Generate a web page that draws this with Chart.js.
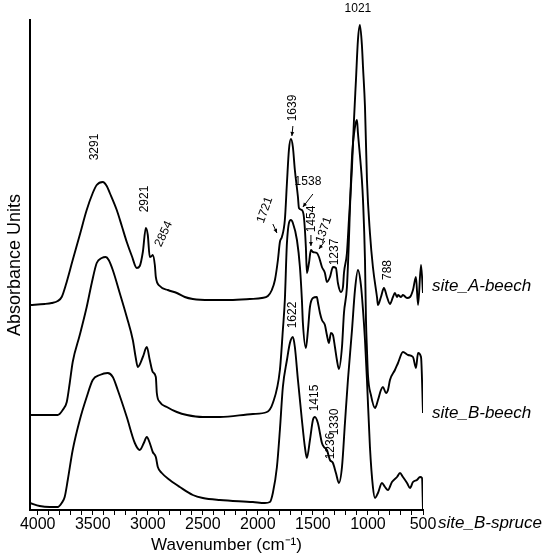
<!DOCTYPE html>
<html>
<head>
<meta charset="utf-8">
<script src="https://cdn.jsdelivr.net/npm/chart.js@4.4.0/dist/chart.umd.min.js"></script>
<style>
  html, body { margin: 0; padding: 0; background: #fff; }
  #wrap { width: 550px; height: 559px; }
</style>
</head>
<body>
<div id="wrap"><canvas id="ftir"></canvas></div>
<script>
// spectra: wavenumber (cm-1) and absorbance, stacking offset included
const waveA = [4070, 3936, 3873, 3818, 3782, 3745, 3682, 3618, 3555, 3500, 3464, 3409, 3373, 3345, 3282, 3236, 3191, 3145, 3100, 3073,
  3045, 3018, 3000, 2982, 2964, 2955, 2936, 2927, 2891, 2818, 2736, 2664, 2591, 2436, 2255, 2073, 1964, 1909, 1873, 1845,
  1818, 1800, 1782, 1755, 1736, 1718, 1700, 1682, 1664, 1636, 1627, 1600, 1582, 1564, 1555, 1536, 1518, 1500, 1464, 1445,
  1418, 1391, 1373, 1345, 1318, 1291, 1273, 1245, 1227, 1218, 1191, 1173, 1145, 1127, 1109, 1091, 1073, 1055, 1045, 1027,
  1009, 982, 955, 918, 909, 882, 855, 827, 800, 773, 755, 736, 727, 700, 682, 645, 618, 591, 564, 545, 518, 500];
const absA = [2.05, 2.06, 2.07, 2.09, 2.13, 2.25, 2.50, 2.75, 3.00, 3.17, 3.25, 3.28, 3.24, 3.17, 3.00, 2.84, 2.68, 2.54, 2.42, 2.44,
  2.58, 2.82, 2.75, 2.53, 2.54, 2.55, 2.45, 2.33, 2.24, 2.20, 2.17, 2.13, 2.11, 2.10, 2.10, 2.11, 2.12, 2.14, 2.20, 2.30,
  2.50, 2.68, 2.73, 2.90, 3.27, 3.60, 3.71, 3.63, 3.40, 3.13, 3.02, 3.00, 2.93, 2.63, 2.37, 2.47, 2.60, 2.58, 2.57, 2.53,
  2.43, 2.37, 2.28, 2.33, 2.43, 2.42, 2.27, 2.18, 2.23, 2.37, 2.57, 2.90, 3.43, 3.90, 4.30, 4.70, 4.85, 4.65, 4.43, 4.03,
  3.30, 2.77, 2.43, 2.13, 2.05, 2.13, 2.22, 2.13, 2.06, 2.13, 2.17, 2.13, 2.15, 2.13, 2.15, 2.12, 2.13, 2.20, 2.33, 2.05, 2.45, 2.17];

const waveB = [4070, 3818, 3773, 3736, 3709, 3682, 3618, 3555, 3509, 3464, 3418, 3382, 3355, 3318, 3255, 3191, 3136, 3109, 3091, 3045,
  3009, 2982, 2955, 2927, 2918, 2891, 2827, 2736, 2645, 2500, 2345, 2045, 1918, 1864, 1800, 1773, 1755, 1736, 1700, 1682,
  1645, 1618, 1600, 1591, 1564, 1545, 1527, 1500, 1464, 1455, 1436, 1418, 1391, 1373, 1355, 1336, 1318, 1300, 1282, 1264,
  1236, 1218, 1191, 1173, 1164, 1145, 1118, 1100, 1091, 1055, 1045, 1027, 1018, 1009, 1000, 973, 936, 909, 882, 864,
  836, 818, 800, 755, 727, 682, 636, 591, 564, 545, 518, 500];
const absB = [0.95, 0.95, 1.00, 1.08, 1.27, 1.48, 1.75, 2.03, 2.27, 2.47, 2.52, 2.53, 2.50, 2.40, 2.17, 1.93, 1.70, 1.52, 1.43, 1.53,
  1.63, 1.50, 1.38, 1.33, 1.17, 1.08, 1.03, 0.98, 0.95, 0.93, 0.93, 0.96, 0.98, 1.07, 1.40, 1.80, 2.10, 2.67, 2.90, 2.87,
  2.70, 2.43, 2.10, 1.87, 1.62, 1.80, 2.03, 2.12, 2.13, 2.08, 1.97, 1.90, 1.85, 1.75, 1.67, 1.77, 1.75, 1.63, 1.50, 1.41,
  1.63, 1.97, 2.23, 2.70, 3.00, 3.53, 3.83, 3.90, 3.77, 3.30, 3.10, 2.50, 1.90, 1.60, 1.35, 1.15, 1.02, 1.10, 1.20, 1.23,
  1.17, 1.20, 1.30, 1.40, 1.47, 1.58, 1.55, 1.53, 1.42, 1.57, 1.53, 0.97];

const waveC = [4070, 3982, 3891, 3818, 3782, 3755, 3727, 3682, 3618, 3555, 3500, 3436, 3364, 3318, 3273, 3191, 3118, 3073, 3036, 3009,
  2982, 2955, 2927, 2909, 2873, 2800, 2709, 2591, 2500, 2345, 2045, 1936, 1891, 1864, 1827, 1800, 1773, 1736, 1709, 1682,
  1664, 1636, 1600, 1573, 1555, 1527, 1500, 1482, 1455, 1418, 1400, 1373, 1345, 1318, 1291, 1264, 1236, 1209, 1182, 1145,
  1118, 1091, 1064, 1045, 1027, 1009, 982, 955, 936, 909, 873, 845, 818, 782, 736, 709, 682, 645, 618, 591,
  555, 527, 509, 500];
const absC = [0.07, 0.04, 0.03, 0.03, 0.07, 0.13, 0.30, 0.60, 0.90, 1.13, 1.30, 1.35, 1.37, 1.33, 1.20, 0.93, 0.67, 0.60, 0.67, 0.73,
  0.67, 0.58, 0.53, 0.43, 0.37, 0.30, 0.23, 0.15, 0.12, 0.10, 0.08, 0.07, 0.08, 0.17, 0.43, 0.80, 1.23, 1.50, 1.67, 1.73,
  1.63, 1.30, 0.90, 0.63, 0.52, 0.70, 0.90, 0.93, 0.87, 0.67, 0.63, 0.60, 0.50, 0.47, 0.37, 0.27, 0.43, 0.87, 1.30, 1.80,
  2.20, 2.40, 2.25, 2.00, 1.70, 1.30, 0.63, 0.23, 0.12, 0.17, 0.27, 0.23, 0.20, 0.28, 0.33, 0.37, 0.33, 0.27, 0.22, 0.28,
  0.30, 0.33, 0.32, 0.00];

const seriesNames = ['site_A-beech', 'site_B-beech', 'site_B-spruce'];

// x axis: labelled ticks every 500, small marks every 100
const majorTicks = [4000, 3500, 3000, 2500, 2000, 1500, 1000, 500];
const minorStep = 100;

// peak labels: text, where it sits (wavenumber, absorbance) and its rotation
const peakText  = ['3291', '2921', '2854', '1721', '1639', '1538', '1454', '1371', '1237', '788', '1021', '1622', '1415', '1330', '1236'];
const peakWave  = [3482, 3027, 2855, 1936, 1682, 1545, 1515, 1400, 1300, 818, 1091, 1682, 1482, 1300, 1336];
const peakLevel = [3.63, 3.11, 2.76, 3.00, 4.02, 3.28, 2.91, 2.80, 2.58, 2.40, 5.01, 1.95, 1.12, 0.88, 0.64];
const peakAngle = [-90, -90, -65, -70, -90, 0, -90, -70, -90, -90, 0, -90, -90, -90, -90];

// little arrows next to some labels
const arrowFromWave  = [1864, 1682, 1500, 1518, 1391];
const arrowFromLevel = [2.86, 3.84, 3.16, 2.75, 2.69];
const arrowToWave    = [1827, 1691, 1591, 1518, 1445];
const arrowToLevel   = [2.77, 3.74, 3.03, 2.64, 2.61];

const FONT = '"Liberation Sans", Arial, Helvetica, sans-serif';
Chart.defaults.font.family = FONT;
Chart.defaults.color = '#000';

function toPoints(w, a) {
  return w.map((v, i) => ({ x: v, y: a[i] }));
}

const spectra = [[waveA, absA], [waveB, absB], [waveC, absC]];

const annotate = {
  id: 'annotate',
  afterDraw(chart) {
    const { ctx, chartArea, scales: { x, y } } = chart;
    ctx.save();
    ctx.fillStyle = '#000';
    ctx.strokeStyle = '#000';

    // peak numbers
    ctx.font = '12px ' + FONT;
    ctx.textAlign = 'center';
    ctx.textBaseline = 'middle';
    peakText.forEach((t, i) => {
      ctx.save();
      ctx.translate(x.getPixelForValue(peakWave[i]), y.getPixelForValue(peakLevel[i]));
      ctx.rotate(peakAngle[i] * Math.PI / 180);
      ctx.fillText(t, 0, 0);
      ctx.restore();
    });

    // arrows
    ctx.lineWidth = 1;
    arrowFromWave.forEach((w, i) => {
      const x0 = x.getPixelForValue(w), y0 = y.getPixelForValue(arrowFromLevel[i]);
      const x1 = x.getPixelForValue(arrowToWave[i]), y1 = y.getPixelForValue(arrowToLevel[i]);
      const a = Math.atan2(y1 - y0, x1 - x0);
      ctx.beginPath();
      ctx.moveTo(x0, y0);
      ctx.lineTo(x1, y1);
      ctx.stroke();
      ctx.beginPath();
      ctx.moveTo(x1, y1);
      ctx.lineTo(x1 - 4.5 * Math.cos(a - 0.45), y1 - 4.5 * Math.sin(a - 0.45));
      ctx.lineTo(x1 - 4.5 * Math.cos(a + 0.45), y1 - 4.5 * Math.sin(a + 0.45));
      ctx.closePath();
      ctx.fill();
    });

    // spectrum names on the right
    const spots = [[9, 2.24], [9, 0.97], [15, -0.13]];
    ctx.font = 'italic 17px ' + FONT;
    ctx.textAlign = 'left';
    seriesNames.forEach((n, i) => {
      ctx.fillText(n, chartArea.right + spots[i][0], y.getPixelForValue(spots[i][1]));
    });
    ctx.restore();
  }
};

new Chart(document.getElementById('ftir'), {
  type: 'line',
  data: {
    datasets: spectra.map((s, i) => ({
      label: seriesNames[i],
      data: toPoints(s[0], s[1]),
      borderColor: '#000',
      borderWidth: 1.9,
      pointRadius: 0,
      cubicInterpolationMode: 'monotone',
      fill: false
    }))
  },
  options: {
    responsive: true,
    maintainAspectRatio: false,
    animation: false,
    layout: { padding: { top: 20, right: 127, left: 0, bottom: 0 } },
    plugins: {
      legend: { display: false },
      tooltip: { enabled: false }
    },
    scales: {
      x: {
        type: 'linear',
        reverse: true,
        min: 500,
        max: 4070,
        afterBuildTicks: s => {
          const t = [];
          for (let v = majorTicks[majorTicks.length - 1]; v <= majorTicks[0]; v += minorStep) t.push({ value: v });
          s.ticks = t;
        },
        ticks: {
          autoSkip: false,
          maxRotation: 0,
          padding: 0,
          font: { size: 16 },
          callback: v => (majorTicks.includes(v) ? String(v) : '')
        },
        grid: { drawOnChartArea: false, drawTicks: true, tickLength: 5, color: '#000', lineWidth: 1 },
        border: { display: true, color: '#000', width: 2 },
        title: { display: true, text: 'Wavenumber (cm\u207B\u00B9)', font: { size: 17 }, padding: { top: 2, bottom: 3 } },
        afterFit: s => { s.height = 49; }
      },
      y: {
        min: 0,
        max: 4.9,
        ticks: { display: false },
        grid: { display: false },
        border: { display: true, color: '#000', width: 2 },
        title: { display: true, text: 'Absorbance Units', font: { size: 18 }, padding: { top: 4, bottom: 0 } },
        afterFit: s => { s.width = 30; }
      }
    }
  },
  plugins: [annotate]
});
</script>
</body>
</html>
